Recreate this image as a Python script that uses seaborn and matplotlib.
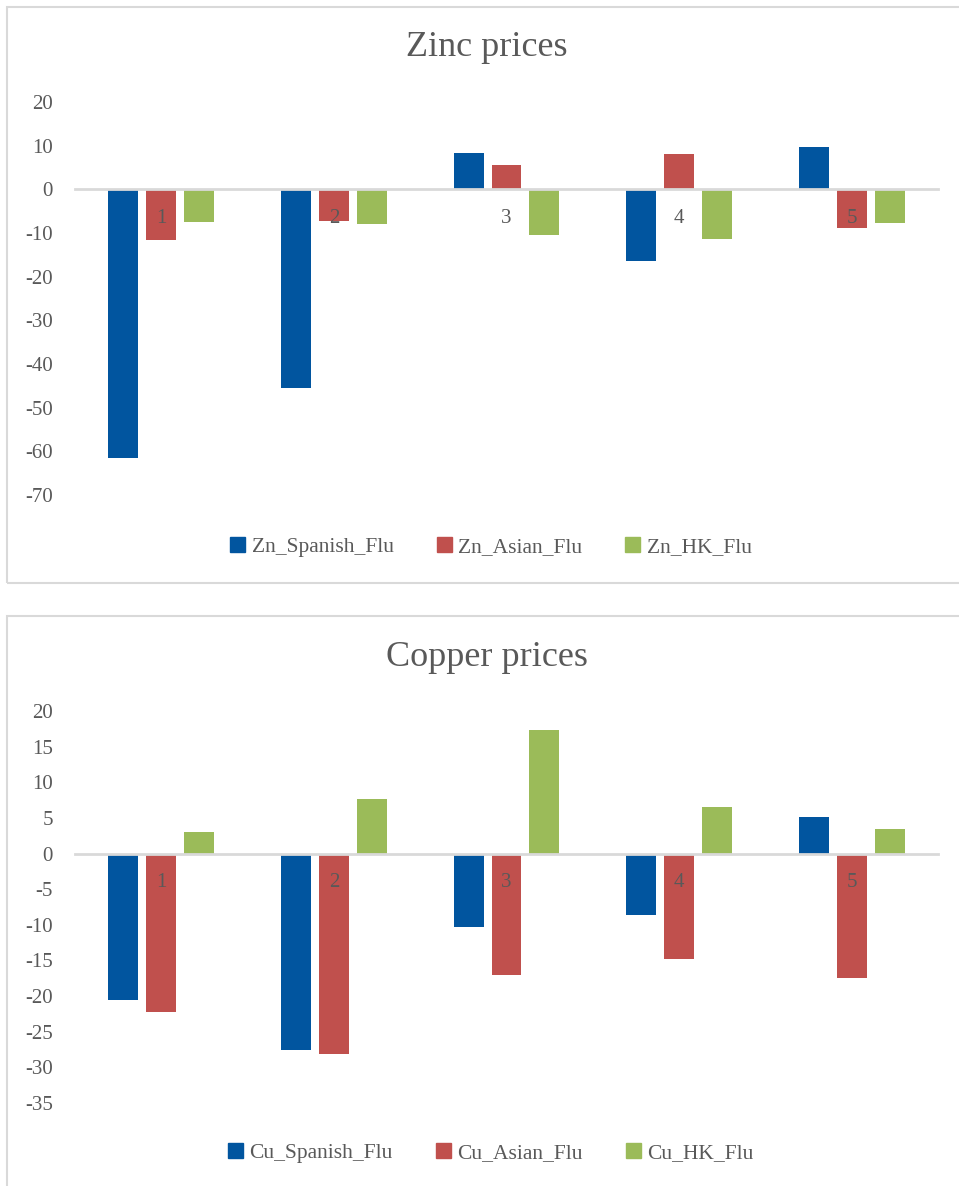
import matplotlib
matplotlib.use("Agg")
import matplotlib.pyplot as plt
import seaborn as sns
import pandas as pd
from matplotlib.patches import Rectangle

periods = ["1", "2", "3", "4", "5"]

zn_spanish = [-61.5, -45.6, 8.4, -16.5, 9.6]
zn_asian = [-11.6, -7.2, 5.5, 8.0, -8.9]
zn_hk = [-7.5, -8.0, -10.5, -11.3, -7.8]

cu_spanish = [-20.5, -27.5, -10.3, -8.6, 5.1]
cu_asian = [-22.2, -28.1, -17.1, -14.8, -17.4]
cu_hk = [3.0, 7.7, 17.3, 6.5, 3.5]

zn_names = ["Zn_Spanish_Flu", "Zn_Asian_Flu", "Zn_HK_Flu"]
cu_names = ["Cu_Spanish_Flu", "Cu_Asian_Flu", "Cu_HK_Flu"]
colors = ["#01559F", "#C0504D", "#9BBB59"]

sns.set_style("white")
plt.rcParams["font.family"] = ["Liberation Serif", "DejaVu Serif"]
grey = "#595959"
line_grey = "#D9D9D9"


def long_df(names, series):
    rows = []
    for name, vals in zip(names, series):
        for p, v in zip(periods, vals):
            rows.append({"period": p, "series": name, "value": v})
    return pd.DataFrame(rows)


W, H = 959, 1186
fig = plt.figure(figsize=(W / 100, H / 100), dpi=100)

# panel borders
fig.patches.append(Rectangle((7 / W, 1 - 583 / H), 960 / W, 576 / H, transform=fig.transFigure,
                             fill=False, edgecolor=line_grey, lw=1.5))
fig.patches.append(Rectangle((7 / W, -0.05), 960 / W, (1186 - 616) / H + 0.05, transform=fig.transFigure,
                             fill=False, edgecolor=line_grey, lw=1.5))


def panel(rect, df, names, title, title_y, legend_y, ylim, yticks):
    ax = fig.add_axes(rect)
    sns.barplot(data=df, x="period", y="value", hue="series", order=periods, hue_order=names,
                palette=colors, saturation=1, width=0.66, gap=0.21, linewidth=0, ax=ax)
    ax.set_xlim(-0.5, 4.5)
    ax.set_ylim(*ylim)
    ax.set_yticks(yticks)
    ax.set_yticklabels([str(t) for t in yticks])
    ax.set_xlabel("")
    ax.set_ylabel("")
    for s in ["top", "right", "left"]:
        ax.spines[s].set_visible(False)
    ax.spines["bottom"].set_position(("data", 0))
    ax.spines["bottom"].set_color(line_grey)
    ax.spines["bottom"].set_linewidth(2)
    ax.tick_params(axis="y", length=0, pad=16, labelsize=15, labelcolor=grey)
    ax.tick_params(axis="x", length=0, pad=14, labelsize=15, labelcolor=grey)
    ax.xaxis.set_zorder(5)
    ax.get_legend().remove()
    handles = [Rectangle((0, 0), 1, 1, color=c) for c in colors]
    fig.legend(handles, names, loc="center", bbox_to_anchor=(491 / W, 1 - legend_y / H), ncol=3,
               frameon=False, fontsize=15.5, handlelength=0.7, handleheight=0.7, handletextpad=0.3,
               columnspacing=2.0, labelcolor=grey)
    fig.text(487 / W, 1 - title_y / H, title, ha="center", va="center", fontsize=26, color=grey)
    return ax


zn_df = long_df(zn_names, [zn_spanish, zn_asian, zn_hk])
cu_df = long_df(cu_names, [cu_spanish, cu_asian, cu_hk])

panel([75 / W, 1 - 495 / H, 863 / W, 393 / H], zn_df, zn_names, "Zinc prices", 48, 547,
      (-70, 20), list(range(20, -71, -10)))
panel([75 / W, 1 - 1103 / H, 863 / W, 392 / H], cu_df, cu_names, "Copper prices", 658, 1153,
      (-35, 20), list(range(20, -36, -5)))

fig.savefig("out.png", dpi=100)
